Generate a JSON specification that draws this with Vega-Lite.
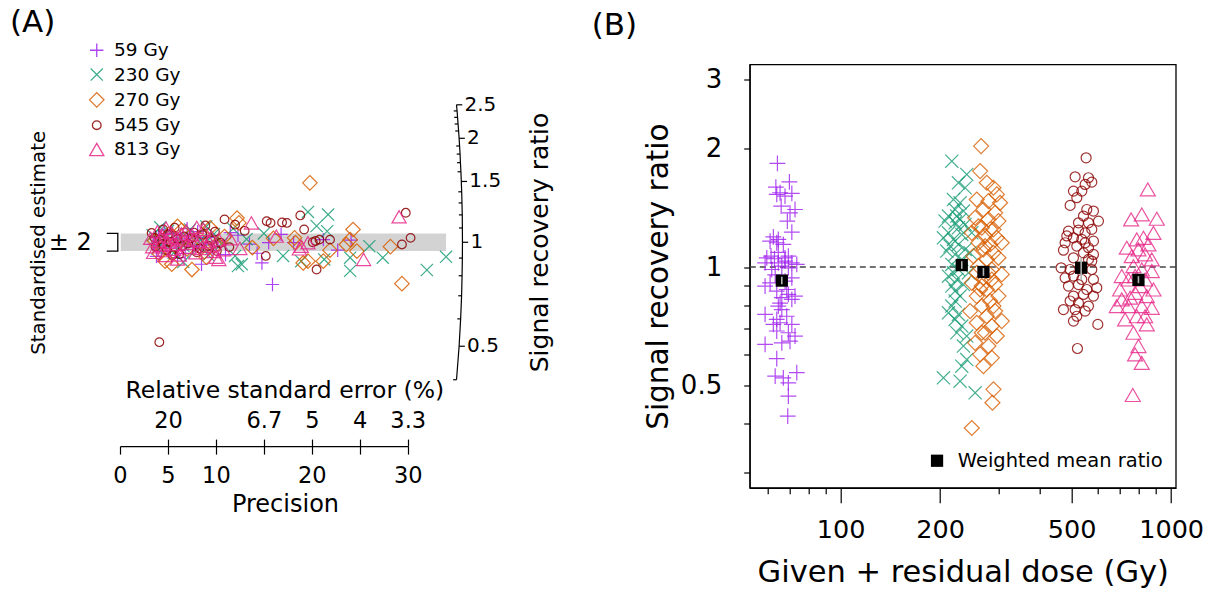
{
"$schema": "https://vega.github.io/schema/vega-lite/v6.json",
"autosize": {"type": "pad"},
"padding": {"left": 10, "top": 6.5, "right": 5, "bottom": 5},
"bounds": "flush",
"spacing": 341.7,
"config": {
  "font": "DejaVu Sans",
  "view": {"stroke": null},
  "axis": {"grid": false, "domainColor": "black", "tickColor": "black", "labelColor": "black", "titleColor": "black", "titleFontWeight": "normal", "labelFont": "DejaVu Sans", "titleFont": "DejaVu Sans", "domainWidth": 1.2, "tickWidth": 1.2, "labelAngle": 0},
  "legend": {"labelFont": "DejaVu Sans", "labelColor": "black", "padding": 0, "labelLimit": 400},
  "title": {"font": "DejaVu Sans", "fontWeight": "normal", "color": "black"}
},
"resolve": {"scale": {"color": "independent", "shape": "independent", "size": "independent", "x": "independent", "y": "independent"}},
"datasets": {
  "band": [{"x0": 0.08, "x1": 34.0, "lo": -2, "hi": 2}],
  "bracket": [{"o": 1, "x": -1.38, "z": 2}, {"o": 2, "x": -0.23, "z": 2}, {"o": 3, "x": -0.23, "z": -2}, {"o": 4, "x": -1.38, "z": -2}],
  "arc": [
    {"v": 0.4, "x": 35.09, "z": -31.24, "xt": 34.74, "lab": ""},
    {"v": 0.5, "x": 35.36, "z": -23.63, "xt": 35.96, "lab": "0.5"},
    {"v": 0.6, "x": 35.52, "z": -17.41, "xt": 35.17, "lab": ""},
    {"v": 0.7, "x": 35.62, "z": -12.16, "xt": 35.27, "lab": ""},
    {"v": 0.8, "x": 35.67, "z": -7.61, "xt": 35.32, "lab": ""},
    {"v": 0.9, "x": 35.70, "z": -3.59, "xt": 35.35, "lab": ""},
    {"v": 1.0, "x": 35.71, "z": 0, "xt": 36.31, "lab": "1"},
    {"v": 1.1, "x": 35.70, "z": 3.25, "xt": 35.35, "lab": ""},
    {"v": 1.2, "x": 35.69, "z": 6.22, "xt": 35.34, "lab": ""},
    {"v": 1.3, "x": 35.66, "z": 8.94, "xt": 35.31, "lab": ""},
    {"v": 1.4, "x": 35.63, "z": 11.47, "xt": 35.28, "lab": ""},
    {"v": 1.5, "x": 35.59, "z": 13.82, "xt": 36.19, "lab": "1.5"},
    {"v": 1.6, "x": 35.55, "z": 16.02, "xt": 35.20, "lab": ""},
    {"v": 1.7, "x": 35.50, "z": 18.09, "xt": 35.15, "lab": ""},
    {"v": 1.8, "x": 35.46, "z": 20.04, "xt": 35.11, "lab": ""},
    {"v": 1.9, "x": 35.41, "z": 21.88, "xt": 35.06, "lab": ""},
    {"v": 2.0, "x": 35.36, "z": 23.63, "xt": 35.96, "lab": "2"},
    {"v": 2.1, "x": 35.31, "z": 25.29, "xt": 34.96, "lab": ""},
    {"v": 2.2, "x": 35.25, "z": 26.88, "xt": 34.90, "lab": ""},
    {"v": 2.3, "x": 35.20, "z": 28.39, "xt": 34.85, "lab": ""},
    {"v": 2.4, "x": 35.15, "z": 29.85, "xt": 34.80, "lab": ""},
    {"v": 2.5, "x": 35.09, "z": 31.24, "xt": 35.69, "lab": "2.5"}
  ],
  "apts": [
    {"g":"59 Gy","p":3.5,"z":-0.5},{"g":"59 Gy","p":4.0,"z":1.2},{"g":"59 Gy","p":4.3,"z":-2.1},{"g":"59 Gy","p":4.8,"z":0.4},{"g":"59 Gy","p":5.2,"z":-1.3},{"g":"59 Gy","p":5.5,"z":2.0},{"g":"59 Gy","p":5.9,"z":-0.2},{"g":"59 Gy","p":6.3,"z":1.5},{"g":"59 Gy","p":6.8,"z":-2.6},{"g":"59 Gy","p":7.2,"z":0.8},{"g":"59 Gy","p":7.6,"z":-1.0},{"g":"59 Gy","p":8.1,"z":2.4},{"g":"59 Gy","p":8.5,"z":-0.6},{"g":"59 Gy","p":9.0,"z":1.1},{"g":"59 Gy","p":9.6,"z":-1.9},{"g":"59 Gy","p":10.2,"z":0.3},{"g":"59 Gy","p":11.0,"z":-2.8},{"g":"59 Gy","p":12.3,"z":1.6},{"g":"59 Gy","p":13.5,"z":-0.4},{"g":"59 Gy","p":14.8,"z":-4.7},{"g":"59 Gy","p":15.9,"z":-9.6},{"g":"59 Gy","p":3.8,"z":-3.2},{"g":"59 Gy","p":4.6,"z":2.8},{"g":"59 Gy","p":6.0,"z":-3.5},{"g":"59 Gy","p":7.0,"z":3.1},{"g":"59 Gy","p":8.5,"z":-5.0},{"g":"59 Gy","p":15.5,"z":-0.1},{"g":"59 Gy","p":18.1,"z":-0.1},{"g":"59 Gy","p":21.2,"z":0.6},{"g":"59 Gy","p":22.7,"z":-1.8},{"g":"59 Gy","p":24.1,"z":0.5},{"g":"59 Gy","p":14.3,"z":-2.5},{"g":"59 Gy","p":16.8,"z":1.8},{"g":"59 Gy","p":11.5,"z":2.2},
    {"g":"230 Gy","p":3.4,"z":1.6},{"g":"230 Gy","p":3.9,"z":-1.4},{"g":"230 Gy","p":4.5,"z":0.2},{"g":"230 Gy","p":5.0,"z":2.6},{"g":"230 Gy","p":5.6,"z":-2.4},{"g":"230 Gy","p":6.1,"z":0.9},{"g":"230 Gy","p":6.6,"z":-0.8},{"g":"230 Gy","p":7.3,"z":2.9},{"g":"230 Gy","p":7.9,"z":-1.7},{"g":"230 Gy","p":8.4,"z":0.5},{"g":"230 Gy","p":9.2,"z":-2.9},{"g":"230 Gy","p":9.8,"z":1.9},{"g":"230 Gy","p":10.6,"z":-0.3},{"g":"230 Gy","p":11.8,"z":3.1},{"g":"230 Gy","p":12.0,"z":-3.1},{"g":"230 Gy","p":12.7,"z":-5.0},{"g":"230 Gy","p":13.2,"z":0.7},{"g":"230 Gy","p":6.6,"z":-4.5},{"g":"230 Gy","p":12.3,"z":-5.4},{"g":"230 Gy","p":17.0,"z":-3.1},{"g":"230 Gy","p":18.9,"z":-4.3},{"g":"230 Gy","p":19.6,"z":6.9},{"g":"230 Gy","p":21.7,"z":6.3},{"g":"230 Gy","p":20.5,"z":3.7},{"g":"230 Gy","p":21.6,"z":2.5},{"g":"230 Gy","p":26.0,"z":-0.9},{"g":"230 Gy","p":27.4,"z":-3.5},{"g":"230 Gy","p":24.0,"z":-6.5},{"g":"230 Gy","p":34.0,"z":-3.3},{"g":"230 Gy","p":32.0,"z":-6.3},{"g":"230 Gy","p":24.0,"z":-3.5},{"g":"230 Gy","p":21.3,"z":-3.9},{"g":"230 Gy","p":4.2,"z":3.4},{"g":"230 Gy","p":9.0,"z":3.6},{"g":"230 Gy","p":15.0,"z":2.0},
    {"g":"270 Gy","p":3.6,"z":0.3},{"g":"270 Gy","p":4.1,"z":-2.6},{"g":"270 Gy","p":4.7,"z":-4.3},{"g":"270 Gy","p":5.1,"z":1.8},{"g":"270 Gy","p":5.4,"z":-5.0},{"g":"270 Gy","p":5.8,"z":-0.9},{"g":"270 Gy","p":6.4,"z":2.7},{"g":"270 Gy","p":7.0,"z":-1.5},{"g":"270 Gy","p":7.5,"z":-6.2},{"g":"270 Gy","p":8.2,"z":1.0},{"g":"270 Gy","p":8.8,"z":-2.2},{"g":"270 Gy","p":9.4,"z":3.3},{"g":"270 Gy","p":10.0,"z":-0.7},{"g":"270 Gy","p":10.9,"z":1.3},{"g":"270 Gy","p":12.2,"z":5.5},{"g":"270 Gy","p":12.4,"z":4.4},{"g":"270 Gy","p":13.8,"z":-1.2},{"g":"270 Gy","p":16.0,"z":0.9},{"g":"270 Gy","p":18.2,"z":1.0},{"g":"270 Gy","p":18.3,"z":-0.1},{"g":"270 Gy","p":19.8,"z":13.5},{"g":"270 Gy","p":19.1,"z":-4.7},{"g":"270 Gy","p":19.6,"z":-4.3},{"g":"270 Gy","p":21.2,"z":-4.3},{"g":"270 Gy","p":21.9,"z":-1.8},{"g":"270 Gy","p":23.6,"z":-0.5},{"g":"270 Gy","p":24.3,"z":2.9},{"g":"270 Gy","p":24.7,"z":-2.0},{"g":"270 Gy","p":24.0,"z":0.6},{"g":"270 Gy","p":28.2,"z":-1.0},{"g":"270 Gy","p":29.4,"z":-9.4},{"g":"270 Gy","p":6.0,"z":3.6},{"g":"270 Gy","p":9.0,"z":-3.4},
    {"g":"545 Gy","p":3.3,"z":2.1},{"g":"545 Gy","p":3.7,"z":-1.0},{"g":"545 Gy","p":4.1,"z":0.6},{"g":"545 Gy","p":4.1,"z":-22.7},{"g":"545 Gy","p":4.5,"z":2.9},{"g":"545 Gy","p":4.9,"z":-1.8},{"g":"545 Gy","p":5.3,"z":0.1},{"g":"545 Gy","p":5.7,"z":3.3},{"g":"545 Gy","p":6.2,"z":-2.7},{"g":"545 Gy","p":6.7,"z":1.3},{"g":"545 Gy","p":7.1,"z":-0.3},{"g":"545 Gy","p":7.7,"z":2.2},{"g":"545 Gy","p":8.3,"z":-1.4},{"g":"545 Gy","p":8.9,"z":3.8},{"g":"545 Gy","p":9.5,"z":0.4},{"g":"545 Gy","p":10.1,"z":-2.0},{"g":"545 Gy","p":10.9,"z":5.2},{"g":"545 Gy","p":12.0,"z":4.0},{"g":"545 Gy","p":15.3,"z":4.8},{"g":"545 Gy","p":15.7,"z":4.4},{"g":"545 Gy","p":16.9,"z":4.5},{"g":"545 Gy","p":17.4,"z":4.4},{"g":"545 Gy","p":18.8,"z":6.1},{"g":"545 Gy","p":19.2,"z":2.9},{"g":"545 Gy","p":15.2,"z":-3.1},{"g":"545 Gy","p":20.4,"z":0.3},{"g":"545 Gy","p":20.1,"z":0.0},{"g":"545 Gy","p":20.8,"z":0.6},{"g":"545 Gy","p":21.9,"z":0.6},{"g":"545 Gy","p":20.5,"z":-6.2},{"g":"545 Gy","p":29.8,"z":6.7},{"g":"545 Gy","p":30.3,"z":1.0},{"g":"545 Gy","p":29.4,"z":-0.5},{"g":"545 Gy","p":13.0,"z":2.6},{"g":"545 Gy","p":11.4,"z":-1.1},{"g":"545 Gy","p":3.6,"z":1.0},{"g":"545 Gy","p":4.4,"z":-0.4},{"g":"545 Gy","p":5.0,"z":1.7},{"g":"545 Gy","p":5.5,"z":-2.9},{"g":"545 Gy","p":6.0,"z":0.8},{"g":"545 Gy","p":6.5,"z":-0.9},{"g":"545 Gy","p":7.4,"z":0.9},{"g":"545 Gy","p":8.0,"z":-2.3},{"g":"545 Gy","p":8.6,"z":1.7},{"g":"545 Gy","p":9.2,"z":-0.8},{"g":"545 Gy","p":9.9,"z":2.4},{"g":"545 Gy","p":10.5,"z":-0.1},
    {"g":"813 Gy","p":3.2,"z":0.9},{"g":"813 Gy","p":3.5,"z":-2.3},{"g":"813 Gy","p":3.9,"z":2.4},{"g":"813 Gy","p":4.2,"z":-0.7},{"g":"813 Gy","p":4.4,"z":1.4},{"g":"813 Gy","p":4.7,"z":-3.0},{"g":"813 Gy","p":5.0,"z":0.0},{"g":"813 Gy","p":5.3,"z":2.2},{"g":"813 Gy","p":5.6,"z":-1.6},{"g":"813 Gy","p":5.9,"z":1.0},{"g":"813 Gy","p":6.2,"z":-2.9},{"g":"813 Gy","p":6.5,"z":0.5},{"g":"813 Gy","p":6.9,"z":2.6},{"g":"813 Gy","p":7.2,"z":-1.1},{"g":"813 Gy","p":7.5,"z":1.7},{"g":"813 Gy","p":7.9,"z":-2.4},{"g":"813 Gy","p":8.3,"z":0.2},{"g":"813 Gy","p":8.7,"z":2.9},{"g":"813 Gy","p":9.1,"z":-0.9},{"g":"813 Gy","p":9.5,"z":1.2},{"g":"813 Gy","p":10.0,"z":-3.4},{"g":"813 Gy","p":10.3,"z":0.6},{"g":"813 Gy","p":10.8,"z":-1.7},{"g":"813 Gy","p":10.3,"z":-3.9},{"g":"813 Gy","p":13.7,"z":4.4},{"g":"813 Gy","p":16.3,"z":1.4},{"g":"813 Gy","p":18.9,"z":-0.9},{"g":"813 Gy","p":19.6,"z":-0.1},{"g":"813 Gy","p":18.7,"z":-1.5},{"g":"813 Gy","p":25.4,"z":-3.9},{"g":"813 Gy","p":29.1,"z":5.8},{"g":"813 Gy","p":4.8,"z":3.2},{"g":"813 Gy","p":6.0,"z":-3.8},{"g":"813 Gy","p":8.0,"z":3.4},{"g":"813 Gy","p":11.5,"z":0.8},{"g":"813 Gy","p":12.5,"z":-1.4},{"g":"813 Gy","p":3.4,"z":-1.0},{"g":"813 Gy","p":4.0,"z":0.3},{"g":"813 Gy","p":4.6,"z":-1.9},{"g":"813 Gy","p":5.2,"z":1.1},{"g":"813 Gy","p":5.8,"z":-0.5},{"g":"813 Gy","p":6.4,"z":1.9},{"g":"813 Gy","p":7.0,"z":-0.3},{"g":"813 Gy","p":7.7,"z":0.6},{"g":"813 Gy","p":8.5,"z":-1.4},{"g":"813 Gy","p":9.3,"z":0.1},{"g":"813 Gy","p":9.8,"z":-2.1}
  ],
  "bpts": [
    {"g":"59 Gy","d":64.4,"r":1.834},{"g":"59 Gy","d":70.0,"r":1.647},{"g":"59 Gy","d":63.7,"r":1.597},{"g":"59 Gy","d":65.6,"r":1.545},{"g":"59 Gy","d":64.1,"r":1.530},{"g":"59 Gy","d":67.9,"r":1.515},{"g":"59 Gy","d":71.2,"r":1.539},{"g":"59 Gy","d":66.1,"r":1.429},{"g":"59 Gy","d":72.8,"r":1.401},{"g":"59 Gy","d":70.3,"r":1.374},{"g":"59 Gy","d":69.0,"r":1.309},{"g":"59 Gy","d":71.2,"r":1.227},{"g":"59 Gy","d":62.6,"r":1.194},{"g":"59 Gy","d":64.8,"r":1.176},{"g":"59 Gy","d":61.2,"r":1.164},{"g":"59 Gy","d":67.1,"r":1.142},{"g":"59 Gy","d":64.1,"r":1.153},{"g":"59 Gy","d":61.6,"r":1.066},{"g":"59 Gy","d":59.8,"r":1.056},{"g":"59 Gy","d":63.1,"r":1.050},{"g":"59 Gy","d":69.5,"r":1.066},{"g":"59 Gy","d":59.1,"r":1.025},{"g":"59 Gy","d":64.8,"r":1.025},{"g":"59 Gy","d":67.9,"r":1.036},{"g":"59 Gy","d":71.2,"r":1.025},{"g":"59 Gy","d":73.7,"r":1.016},{"g":"59 Gy","d":66.4,"r":1.006},{"g":"59 Gy","d":69.5,"r":0.996},{"g":"59 Gy","d":61.9,"r":0.986},{"g":"59 Gy","d":61.2,"r":0.912},{"g":"59 Gy","d":59.1,"r":0.895},{"g":"59 Gy","d":67.9,"r":0.921},{"g":"59 Gy","d":71.2,"r":0.939},{"g":"59 Gy","d":64.1,"r":0.869},{"g":"59 Gy","d":69.5,"r":0.852},{"g":"59 Gy","d":66.4,"r":0.836},{"g":"59 Gy","d":72.8,"r":0.844},{"g":"59 Gy","d":71.2,"r":0.828},{"g":"59 Gy","d":59.1,"r":0.758},{"g":"59 Gy","d":64.8,"r":0.796},{"g":"59 Gy","d":66.4,"r":0.780},{"g":"59 Gy","d":68.7,"r":0.750},{"g":"59 Gy","d":64.1,"r":0.736},{"g":"59 Gy","d":65.6,"r":0.722},{"g":"59 Gy","d":62.6,"r":0.715},{"g":"59 Gy","d":71.2,"r":0.715},{"g":"59 Gy","d":64.1,"r":0.688},{"g":"59 Gy","d":69.5,"r":0.681},{"g":"59 Gy","d":72.8,"r":0.668},{"g":"59 Gy","d":70.3,"r":0.648},{"g":"59 Gy","d":59.1,"r":0.636},{"g":"59 Gy","d":66.4,"r":0.642},{"g":"59 Gy","d":64.1,"r":0.585},{"g":"59 Gy","d":73.7,"r":0.539},{"g":"59 Gy","d":63.4,"r":0.528},{"g":"59 Gy","d":67.1,"r":0.523},{"g":"59 Gy","d":69.5,"r":0.508},{"g":"59 Gy","d":69.5,"r":0.470},{"g":"59 Gy","d":69.2,"r":0.418},{"g":"59 Gy","d":64.8,"r":1.09},{"g":"59 Gy","d":67.9,"r":1.056},{"g":"59 Gy","d":63.4,"r":0.955},{"g":"59 Gy","d":68.7,"r":0.877},{"g":"59 Gy","d":65.6,"r":0.81},
    {"g":"230 Gy","d":217.0,"r":1.859},{"g":"230 Gy","d":240.8,"r":1.720},{"g":"230 Gy","d":227.3,"r":1.638},{"g":"230 Gy","d":238.1,"r":1.591},{"g":"230 Gy","d":219.5,"r":1.485},{"g":"230 Gy","d":229.9,"r":1.457},{"g":"230 Gy","d":235.3,"r":1.388},{"g":"230 Gy","d":224.7,"r":1.348},{"g":"230 Gy","d":207.1,"r":1.309},{"g":"230 Gy","d":222.1,"r":1.296},{"g":"230 Gy","d":238.1,"r":1.284},{"g":"230 Gy","d":227.3,"r":1.259},{"g":"230 Gy","d":212.0,"r":1.222},{"g":"230 Gy","d":204.7,"r":1.187},{"g":"230 Gy","d":219.5,"r":1.176},{"g":"230 Gy","d":232.6,"r":1.211},{"g":"230 Gy","d":214.5,"r":1.131},{"g":"230 Gy","d":227.3,"r":1.142},{"g":"230 Gy","d":209.5,"r":1.098},{"g":"230 Gy","d":222.1,"r":1.077},{"g":"230 Gy","d":238.1,"r":1.109},{"g":"230 Gy","d":217.0,"r":1.016},{"g":"230 Gy","d":227.3,"r":0.986},{"g":"230 Gy","d":212.0,"r":0.948},{"g":"230 Gy","d":224.7,"r":0.930},{"g":"230 Gy","d":217.0,"r":0.895},{"g":"230 Gy","d":235.3,"r":0.903},{"g":"230 Gy","d":222.1,"r":0.869},{"g":"230 Gy","d":229.9,"r":0.844},{"g":"230 Gy","d":217.0,"r":0.796},{"g":"230 Gy","d":212.0,"r":0.765},{"g":"230 Gy","d":227.3,"r":0.758},{"g":"230 Gy","d":222.1,"r":0.736},{"g":"230 Gy","d":232.6,"r":0.708},{"g":"230 Gy","d":224.7,"r":0.681},{"g":"230 Gy","d":240.8,"r":0.668},{"g":"230 Gy","d":235.3,"r":0.630},{"g":"230 Gy","d":240.8,"r":0.582},{"g":"230 Gy","d":232.6,"r":0.560},{"g":"230 Gy","d":204.7,"r":0.523},{"g":"230 Gy","d":229.9,"r":0.513},{"g":"230 Gy","d":255.3,"r":0.479},{"g":"230 Gy","d":249.4,"r":1.222},{"g":"230 Gy","d":246.5,"r":1.087},{"g":"230 Gy","d":243.7,"r":0.967},{"g":"230 Gy","d":229.9,"r":1.32},{"g":"230 Gy","d":222.1,"r":1.40},{"g":"230 Gy","d":232.6,"r":1.046},{"g":"230 Gy","d":222.1,"r":0.82},{"g":"230 Gy","d":219.5,"r":0.967},{"g":"230 Gy","d":212.0,"r":1.348},
    {"g":"270 Gy","d":266.1,"r":2.030},{"g":"270 Gy","d":264.3,"r":1.754},{"g":"270 Gy","d":276.9,"r":1.638},{"g":"270 Gy","d":290.0,"r":1.591},{"g":"270 Gy","d":296.9,"r":1.530},{"g":"270 Gy","d":258.2,"r":1.485},{"g":"270 Gy","d":280.1,"r":1.471},{"g":"270 Gy","d":303.8,"r":1.457},{"g":"270 Gy","d":270.5,"r":1.401},{"g":"270 Gy","d":293.4,"r":1.374},{"g":"270 Gy","d":255.3,"r":1.335},{"g":"270 Gy","d":280.1,"r":1.322},{"g":"270 Gy","d":300.3,"r":1.309},{"g":"270 Gy","d":267.4,"r":1.259},{"g":"270 Gy","d":290.0,"r":1.247},{"g":"270 Gy","d":249.4,"r":1.222},{"g":"270 Gy","d":273.6,"r":1.199},{"g":"270 Gy","d":296.9,"r":1.187},{"g":"270 Gy","d":261.2,"r":1.153},{"g":"270 Gy","d":283.4,"r":1.142},{"g":"270 Gy","d":307.3,"r":1.153},{"g":"270 Gy","d":270.5,"r":1.109},{"g":"270 Gy","d":290.0,"r":1.087},{"g":"270 Gy","d":252.3,"r":1.066},{"g":"270 Gy","d":276.9,"r":1.046},{"g":"270 Gy","d":300.3,"r":1.056},{"g":"270 Gy","d":261.2,"r":1.006},{"g":"270 Gy","d":286.7,"r":0.986},{"g":"270 Gy","d":307.3,"r":0.958},{"g":"270 Gy","d":270.5,"r":0.939},{"g":"270 Gy","d":249.4,"r":0.912},{"g":"270 Gy","d":293.4,"r":0.903},{"g":"270 Gy","d":276.9,"r":0.877},{"g":"270 Gy","d":258.2,"r":0.844},{"g":"270 Gy","d":300.3,"r":0.844},{"g":"270 Gy","d":283.4,"r":0.820},{"g":"270 Gy","d":267.4,"r":0.796},{"g":"270 Gy","d":246.5,"r":0.773},{"g":"270 Gy","d":293.4,"r":0.773},{"g":"270 Gy","d":276.9,"r":0.750},{"g":"270 Gy","d":258.2,"r":0.722},{"g":"270 Gy","d":307.3,"r":0.729},{"g":"270 Gy","d":286.7,"r":0.708},{"g":"270 Gy","d":267.4,"r":0.681},{"g":"270 Gy","d":296.9,"r":0.668},{"g":"270 Gy","d":255.3,"r":0.642},{"g":"270 Gy","d":280.1,"r":0.630},{"g":"270 Gy","d":264.3,"r":0.600},{"g":"270 Gy","d":286.7,"r":0.588},{"g":"270 Gy","d":270.5,"r":0.560},{"g":"270 Gy","d":290.0,"r":0.489},{"g":"270 Gy","d":288.0,"r":0.452},{"g":"270 Gy","d":249.4,"r":0.390},{"g":"270 Gy","d":283.4,"r":1.247},{"g":"270 Gy","d":267.4,"r":0.895},{"g":"270 Gy","d":258.2,"r":0.967},{"g":"270 Gy","d":286.7,"r":0.930},{"g":"270 Gy","d":273.6,"r":0.681},{"g":"270 Gy","d":273.6,"r":1.131},{"g":"270 Gy","d":280.1,"r":0.967},{"g":"270 Gy","d":264.3,"r":0.877},{"g":"270 Gy","d":290.0,"r":0.796},{"g":"270 Gy","d":261.2,"r":1.27},
    {"g":"545 Gy","d":553.1,"r":1.896},{"g":"545 Gy","d":512.3,"r":1.696},{"g":"545 Gy","d":562.2,"r":1.687},{"g":"545 Gy","d":575.4,"r":1.644},{"g":"545 Gy","d":549.3,"r":1.622},{"g":"545 Gy","d":506.4,"r":1.560},{"g":"545 Gy","d":536.7,"r":1.560},{"g":"545 Gy","d":518.3,"r":1.501},{"g":"545 Gy","d":494.8,"r":1.435},{"g":"545 Gy","d":555.7,"r":1.401},{"g":"545 Gy","d":582.1,"r":1.388},{"g":"545 Gy","d":543.0,"r":1.348},{"g":"545 Gy","d":602.8,"r":1.309},{"g":"545 Gy","d":562.2,"r":1.296},{"g":"545 Gy","d":489.0,"r":1.234},{"g":"545 Gy","d":524.4,"r":1.242},{"g":"545 Gy","d":549.3,"r":1.222},{"g":"545 Gy","d":575.4,"r":1.247},{"g":"545 Gy","d":506.4,"r":1.187},{"g":"545 Gy","d":536.7,"r":1.176},{"g":"545 Gy","d":582.1,"r":1.164},{"g":"545 Gy","d":477.8,"r":1.153},{"g":"545 Gy","d":518.3,"r":1.131},{"g":"545 Gy","d":562.2,"r":1.120},{"g":"545 Gy","d":543.0,"r":1.087},{"g":"545 Gy","d":582.1,"r":1.077},{"g":"545 Gy","d":472.3,"r":1.104},{"g":"545 Gy","d":506.4,"r":1.056},{"g":"545 Gy","d":575.4,"r":1.036},{"g":"545 Gy","d":464.7,"r":0.996},{"g":"545 Gy","d":494.8,"r":0.986},{"g":"545 Gy","d":575.4,"r":0.986},{"g":"545 Gy","d":477.8,"r":0.939},{"g":"545 Gy","d":506.4,"r":0.949},{"g":"545 Gy","d":582.1,"r":0.930},{"g":"545 Gy","d":489.0,"r":0.895},{"g":"545 Gy","d":524.4,"r":0.903},{"g":"545 Gy","d":555.7,"r":0.877},{"g":"545 Gy","d":595.8,"r":0.886},{"g":"545 Gy","d":506.4,"r":0.844},{"g":"545 Gy","d":543.0,"r":0.852},{"g":"545 Gy","d":582.1,"r":0.844},{"g":"545 Gy","d":494.8,"r":0.820},{"g":"545 Gy","d":524.4,"r":0.811},{"g":"545 Gy","d":562.2,"r":0.796},{"g":"545 Gy","d":472.3,"r":0.780},{"g":"545 Gy","d":512.3,"r":0.780},{"g":"545 Gy","d":549.3,"r":0.773},{"g":"545 Gy","d":506.4,"r":0.729},{"g":"545 Gy","d":600.0,"r":0.715},{"g":"545 Gy","d":520.7,"r":0.621},{"g":"545 Gy","d":524.4,"r":1.296},{"g":"545 Gy","d":562.2,"r":1.046},{"g":"545 Gy","d":536.7,"r":0.930},{"g":"545 Gy","d":518.3,"r":0.750},{"g":"545 Gy","d":483.4,"r":1.2},{"g":"545 Gy","d":549.3,"r":1.153},
    {"g":"813 Gy","d":849.9,"r":1.575},{"g":"813 Gy","d":756.8,"r":1.322},{"g":"813 Gy","d":815.0,"r":1.361},{"g":"813 Gy","d":904.9,"r":1.327},{"g":"813 Gy","d":884.1,"r":1.222},{"g":"813 Gy","d":787.1,"r":1.176},{"g":"813 Gy","d":824.6,"r":1.187},{"g":"813 Gy","d":734.2,"r":1.120},{"g":"813 Gy","d":796.4,"r":1.109},{"g":"813 Gy","d":853.8,"r":1.142},{"g":"813 Gy","d":760.2,"r":1.066},{"g":"813 Gy","d":834.2,"r":1.077},{"g":"813 Gy","d":873.9,"r":1.046},{"g":"813 Gy","d":709.0,"r":0.949},{"g":"813 Gy","d":769.1,"r":1.006},{"g":"813 Gy","d":815.0,"r":0.986},{"g":"813 Gy","d":873.9,"r":0.977},{"g":"813 Gy","d":742.8,"r":0.930},{"g":"813 Gy","d":834.2,"r":0.930},{"g":"813 Gy","d":884.1,"r":0.877},{"g":"813 Gy","d":700.9,"r":0.877},{"g":"813 Gy","d":778.1,"r":0.860},{"g":"813 Gy","d":844.0,"r":0.844},{"g":"813 Gy","d":684.8,"r":0.796},{"g":"813 Gy","d":742.8,"r":0.796},{"g":"813 Gy","d":815.0,"r":0.796},{"g":"813 Gy","d":873.9,"r":0.788},{"g":"813 Gy","d":725.7,"r":0.736},{"g":"813 Gy","d":787.1,"r":0.750},{"g":"813 Gy","d":844.0,"r":0.715},{"g":"813 Gy","d":769.1,"r":0.681},{"g":"813 Gy","d":796.4,"r":0.630},{"g":"813 Gy","d":778.1,"r":0.600},{"g":"813 Gy","d":815.0,"r":0.571},{"g":"813 Gy","d":765.5,"r":0.473},{"g":"813 Gy","d":805.6,"r":0.895},{"g":"813 Gy","d":751.5,"r":0.836},{"g":"813 Gy","d":834.2,"r":0.750},{"g":"813 Gy","d":709.0,"r":0.828},{"g":"813 Gy","d":778.1,"r":0.949}
  ],
  "bmeans": [
    {"g":"59 Gy","d":66.4,"r":0.924,"lo":0.905,"hi":0.945},
    {"g":"230 Gy","d":232.6,"r":1.012,"lo":0.99,"hi":1.035},
    {"g":"270 Gy","d":270.5,"r":0.972,"lo":0.95,"hi":0.995},
    {"g":"545 Gy","d":534.2,"r":0.996,"lo":0.927,"hi":1.058},
    {"g":"813 Gy","d":796.4,"r":0.928,"lo":0.91,"hi":0.948}
  ]
},
"hconcat": [
  {
    "width": 287.7,
    "height": 423.3,
    "title": {"text": "(A)", "anchor": "start", "frame": "group", "fontSize": 31, "dx": -110, "offset": 2},
    "resolve": {"axis": {"x": "independent", "y": "independent"}},
    "layer": [
      {
        "data": {"name": "band"},
        "mark": {"type": "rect", "color": "#D3D3D3"},
        "encoding": {
          "x": {"field": "x0", "type": "quantitative", "scale": {"domain": [0, 30], "nice": false, "zero": false},
                "axis": {"orient": "top", "offset": -381.6, "values": [5, 10, 15, 20, 25, 30], "labelExpr": "datum.value == 10 ? '' : format(100 / datum.value, '.2~r')", "tickSize": 7, "domain": false, "labelFontSize": 22.5, "labelPadding": 6.7, "title": "Relative standard error (%)", "titleFontSize": 23.5, "titlePadding": 7, "titleX": 164.3, "labelOverlap": false, "labelFlush": false}},
          "x2": {"field": "x1"},
          "y": {"field": "lo", "type": "quantitative", "scale": {"domain": [-55.8, 40.4], "nice": false, "zero": false}, "axis": null},
          "y2": {"field": "hi"}
        }
      },
      {
        "data": {"name": "bracket"},
        "mark": {"type": "line", "color": "black", "strokeWidth": 1.3},
        "encoding": {
          "x": {"field": "x", "type": "quantitative", "axis": null},
          "y": {"field": "z", "type": "quantitative", "axis": null},
          "order": {"field": "o"}
        }
      },
      {
        "data": {"name": "apts"},
        "mark": {"type": "point", "filled": false, "strokeWidth": 1.2, "opacity": 0.85},
        "encoding": {
          "x": {"field": "p", "type": "quantitative",
                "axis": {"orient": "bottom", "offset": -41.7, "values": [0, 5, 10, 15, 20, 25, 30], "labelExpr": "datum.value == 15 || datum.value == 25 ? '' : datum.label", "tickSize": 8, "labelFontSize": 22.5, "labelPadding": 10.5, "title": "Precision", "titleFontSize": 24, "titlePadding": 5, "titleX": 165, "labelOverlap": false, "labelFlush": false}},
          "y": {"field": "z", "type": "quantitative",
                "axis": {"orient": "left", "values": [0], "labelExpr": "'± 2'", "ticks": false, "domain": false, "labelFontSize": 24, "labelPadding": 28.7, "title": "Standardised estimate", "titleFontSize": 19.8, "titlePadding": 0, "titleY": 177.8}},
          "color": {"field": "g", "type": "nominal", "scale": {"domain": ["59 Gy", "230 Gy", "270 Gy", "545 Gy", "813 Gy"], "range": ["#A020F0", "#1B9E77", "#D95F02", "#8B0000", "#E7298A"]},
                    "legend": {"orient": "none", "legendX": -32.5, "legendY": -23.5, "title": null, "labelFontSize": 18.5, "symbolSize": 140, "symbolStrokeWidth": 1.3, "rowPadding": 5.3, "labelOffset": 8}},
          "shape": {"field": "g", "type": "nominal", "scale": {"domain": ["59 Gy", "230 Gy", "270 Gy", "545 Gy", "813 Gy"], "range": ["M-1,0L1,0M0,-1L0,1", "M-0.8,-0.8L0.8,0.8M-0.8,0.8L0.8,-0.8", "diamond", "circle", "triangle-up"]}},
          "size": {"field": "g", "type": "nominal", "scale": {"type": "ordinal", "domain": ["59 Gy", "230 Gy", "270 Gy", "545 Gy", "813 Gy"], "range": [180, 230, 210, 75, 200]}, "legend": null}
        }
      },
      {
        "data": {"name": "arc"},
        "mark": {"type": "line", "color": "black", "strokeWidth": 1.2},
        "encoding": {
          "x": {"field": "x", "type": "quantitative", "axis": null},
          "y": {"field": "z", "type": "quantitative",
                "axis": {"orient": "right", "labels": false, "ticks": false, "domain": false, "title": "Signal recovery ratio", "titleFontSize": 25, "titleAngle": 270, "titleX": 132, "titleY": 177.5, "titleAlign": "center", "titleBaseline": "middle"}},
          "order": {"field": "z"}
        }
      },
      {
        "data": {"name": "arc"},
        "mark": {"type": "rule", "color": "black", "strokeWidth": 1.2},
        "encoding": {
          "x": {"field": "x", "type": "quantitative", "axis": null},
          "x2": {"field": "xt"},
          "y": {"field": "z", "type": "quantitative", "axis": null}
        }
      },
      {
        "data": {"name": "arc"},
        "mark": {"type": "text", "align": "left", "baseline": "middle", "dx": 8, "fontSize": 20, "color": "black"},
        "encoding": {
          "x": {"field": "x", "type": "quantitative", "axis": null},
          "y": {"field": "z", "type": "quantitative", "axis": null},
          "text": {"field": "lab"}
        }
      }
    ]
  },
  {
    "width": 426.1,
    "height": 423.3,
    "view": {"stroke": "black", "strokeWidth": 1.3},
    "title": {"text": "(B)", "anchor": "start", "frame": "group", "fontSize": 31, "dx": -158, "offset": 22},
    "resolve": {"scale": {"shape": "independent", "color": "independent", "size": "independent"}, "axis": {"x": "independent", "y": "independent"}},
    "layer": [
      {
        "data": {"values": [{"r": 1}]},
        "mark": {"type": "rule", "color": "#444444", "strokeDash": [6, 4], "strokeWidth": 1.5},
        "encoding": {
          "y": {"field": "r", "type": "quantitative", "scale": {"type": "log", "domain": [0.2748, 3.273], "nice": false}, "axis": null}
        }
      },
      {
        "data": {"name": "bpts"},
        "mark": {"type": "point", "filled": false, "strokeWidth": 1.2, "opacity": 0.8},
        "encoding": {
          "x": {"field": "d", "type": "quantitative", "scale": {"type": "log", "domain": [53.09, 1033], "nice": false},
                "axis": {"values": [60, 70, 80, 90, 100, 200, 300, 400, 500, 600, 700, 800, 900, 1000], "labelExpr": "datum.value == 100 || datum.value == 200 || datum.value == 500 || datum.value == 1000 ? format(datum.value, 'd') : ''", "tickSize": {"condition": {"test": "datum.value == 100 || datum.value == 200 || datum.value == 500 || datum.value == 1000", "value": 15}, "value": 6}, "labelFontSize": 25.5, "labelPadding": 14.6, "title": "Given + residual dose (Gy)", "titleFontSize": 30.5, "titlePadding": 15, "labelOverlap": false, "labelFlush": false}},
          "y": {"field": "r", "type": "quantitative",
                "axis": {"values": [0.3, 0.4, 0.5, 0.6, 0.7, 0.8, 0.9, 1, 2, 3], "labelExpr": "datum.value == 0.5 || datum.value == 1 || datum.value == 2 || datum.value == 3 ? format(datum.value, '~g') : ''", "tickSize": 6, "labelFontSize": 26, "labelPadding": 22, "title": "Signal recovery ratio", "titleFontSize": 29.5, "titlePadding": 7, "labelOverlap": false, "labelFlush": false}},
          "color": {"field": "g", "type": "nominal", "scale": {"domain": ["59 Gy", "230 Gy", "270 Gy", "545 Gy", "813 Gy"], "range": ["#A020F0", "#1B9E77", "#D95F02", "#8B0000", "#E7298A"]}, "legend": null},
          "shape": {"field": "g", "type": "nominal", "scale": {"domain": ["59 Gy", "230 Gy", "270 Gy", "545 Gy", "813 Gy"], "range": ["M-1,0L1,0M0,-1L0,1", "M-0.8,-0.8L0.8,0.8M-0.8,0.8L0.8,-0.8", "diamond", "circle", "triangle-up"]}, "legend": null},
          "size": {"field": "g", "type": "nominal", "scale": {"type": "ordinal", "domain": ["59 Gy", "230 Gy", "270 Gy", "545 Gy", "813 Gy"], "range": [250, 270, 225, 100, 225]}, "legend": null}
        }
      },
      {
        "data": {"name": "bmeans"},
        "mark": {"type": "point", "filled": true, "color": "black", "opacity": 1, "size": 150},
        "encoding": {
          "x": {"field": "d", "type": "quantitative", "axis": null},
          "y": {"field": "r", "type": "quantitative", "axis": null},
          "shape": {"datum": "Weighted mean ratio", "type": "nominal", "scale": {"range": ["square"]},
                    "legend": {"orient": "none", "legendX": 177.6, "legendY": 386.5, "title": null, "labelFontSize": 19.5, "symbolSize": 150, "symbolFillColor": "black", "symbolStrokeColor": "black", "symbolType": "square", "labelOffset": 11}}
        }
      },
      {
        "data": {"name": "bmeans"},
        "mark": {"type": "rule", "color": "#B5B5B5", "strokeWidth": 1.6},
        "encoding": {
          "x": {"field": "d", "type": "quantitative", "axis": null},
          "y": {"field": "lo", "type": "quantitative", "axis": null},
          "y2": {"field": "hi"}
        }
      }
    ]
  }
]
}
